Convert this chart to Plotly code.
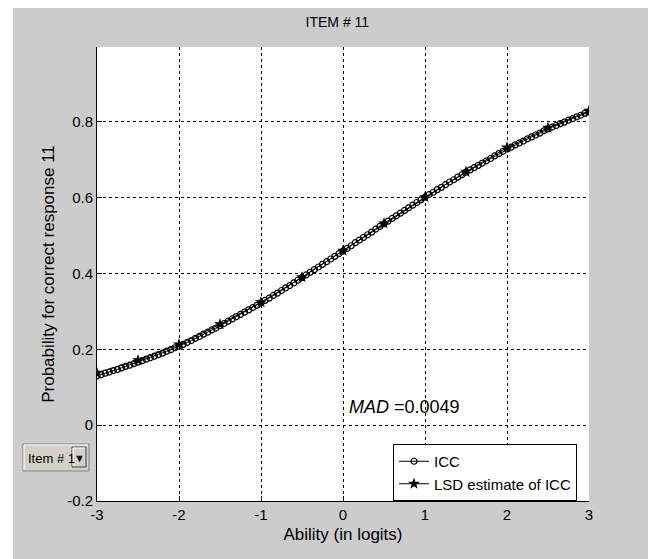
import plotly.graph_objects as go

# Ability grid for the ICC (step 0.05 logits)
ability_icc = [round(-3 + 0.05 * i, 2) for i in range(121)]
icc_values = [
    0.130, 0.133, 0.137, 0.140, 0.144, 0.147, 0.151, 0.155, 0.158, 0.162,
    0.166, 0.170, 0.174, 0.178, 0.182, 0.186, 0.190, 0.195, 0.199, 0.204,
    0.208, 0.213, 0.218, 0.223, 0.229, 0.234, 0.240, 0.245, 0.251, 0.256,
    0.262, 0.268, 0.274, 0.280, 0.286, 0.292, 0.298, 0.304, 0.310, 0.316,
    0.322, 0.329, 0.335, 0.342, 0.348, 0.355, 0.362, 0.368, 0.375, 0.382,
    0.389, 0.396, 0.403, 0.410, 0.417, 0.424, 0.431, 0.438, 0.445, 0.452,
    0.459, 0.466, 0.473, 0.481, 0.488, 0.495, 0.502, 0.509, 0.517, 0.524,
    0.531, 0.538, 0.545, 0.552, 0.559, 0.566, 0.573, 0.580, 0.587, 0.594,
    0.601, 0.608, 0.614, 0.621, 0.627, 0.634, 0.641, 0.647, 0.654, 0.660,
    0.667, 0.673, 0.679, 0.685, 0.691, 0.697, 0.703, 0.710, 0.716, 0.722,
    0.728, 0.733, 0.739, 0.744, 0.749, 0.755, 0.760, 0.765, 0.770, 0.776,
    0.781, 0.786, 0.790, 0.795, 0.799, 0.804, 0.808, 0.813, 0.817, 0.822,
    0.826,
]

ability_lsd = [-3, -2.5, -2, -1.5, -1, -0.5, 0, 0.5, 1, 1.5, 2, 2.5, 3]
lsd_values = [0.138, 0.171, 0.213, 0.266, 0.324, 0.390, 0.460, 0.532,
              0.601, 0.668, 0.732, 0.784, 0.829]

x_ticks = [-3, -2, -1, 0, 1, 2, 3]
y_ticks = [-0.2, 0, 0.2, 0.4, 0.6, 0.8]
y_tick_labels = ["-0.2", "0", "0.2", "0.4", "0.6", "0.8"]

FONT = "Liberation Sans, Arial, sans-serif"
GRAY = "#cccccc"

fig = go.Figure()
fig.add_trace(go.Scatter(
    x=ability_icc, y=icc_values, name="ICC", mode="lines+markers",
    line=dict(color="black", width=1),
    marker=dict(symbol="circle-open", size=6, color="black", line=dict(width=1.2)),
))
fig.add_trace(go.Scatter(
    x=ability_lsd, y=lsd_values, name="LSD estimate of ICC", mode="lines+markers",
    line=dict(color="black", width=1),
    marker=dict(symbol="star", size=9, color="black"),
))

W, H = 656, 559
OFF = 8  # page body offset
L, T = 89, 39
pw, ph = 492, 454
R, B = W - L - pw, H - T - ph


def px(page_x):
    return (page_x - OFF - L) / pw


def py(page_y):
    return (T + ph + OFF - page_y) / ph


shapes = [
    # white strip at left outside the gray figure area
    dict(type="rect", xref="paper", yref="paper", x0=px(0), x1=px(13), y0=py(H + 20), y1=py(-20),
         fillcolor="white", line=dict(width=0), layer="below"),
    # dropdown widget look-alike
    dict(type="rect", xref="paper", yref="paper", x0=px(23), x1=px(89), y0=py(471), y1=py(444),
         fillcolor="#d4d0c8", line=dict(color="#808080", width=1)),
    dict(type="line", xref="paper", yref="paper", x0=px(24), x1=px(88), y0=py(445), y1=py(445),
         line=dict(color="white", width=1)),
    dict(type="line", xref="paper", yref="paper", x0=px(24), x1=px(24), y0=py(445), y1=py(470),
         line=dict(color="white", width=1)),
    dict(type="rect", xref="paper", yref="paper", x0=px(72), x1=px(86), y0=py(467), y1=py(447),
         fillcolor="#d4d0c8", line=dict(color="#404040", width=1)),
    dict(type="line", xref="paper", yref="paper", x0=px(73), x1=px(85), y0=py(448), y1=py(448),
         line=dict(color="white", width=1)),
    dict(type="line", xref="paper", yref="paper", x0=px(73), x1=px(73), y0=py(448), y1=py(466),
         line=dict(color="white", width=1)),
]

fig.update_layout(
    width=W, height=H,
    margin=dict(l=L, r=R, t=T, b=B, autoexpand=False),
    paper_bgcolor=GRAY, plot_bgcolor="white",
    font=dict(family=FONT, size=14, color="black"),
    title=dict(text="ITEM # 11", x=px(344), xanchor="center", y=1 - (22 - OFF) / H, yanchor="middle",
               font=dict(size=14)),
    showlegend=True,
    legend=dict(x=px(393), y=py(444), xanchor="left", yanchor="top",
                bgcolor="white", bordercolor="black", borderwidth=1,
                font=dict(size=15), itemwidth=30, tracegroupgap=0),
    shapes=shapes,
    annotations=[
        dict(x=0.05, y=0.048, xref="x", yref="y", xanchor="left", yanchor="middle",
             text="<i>MAD</i> =0.0049", showarrow=False, font=dict(size=18)),
        dict(x=px(26), y=py(458), xref="paper", yref="paper", xanchor="left", yanchor="middle",
             text="Item # 1", showarrow=False, font=dict(size=13)),
        dict(x=px(79), y=py(457.5), xref="paper", yref="paper", xanchor="center", yanchor="middle",
             text="▼", showarrow=False, font=dict(size=11)),
    ],
)

fig.update_xaxes(
    range=[-3, 3], tickvals=x_ticks, ticktext=[str(v) for v in x_ticks],
    showgrid=True, gridcolor="black", griddash="3px,3px", gridwidth=1,
    showline=True, linecolor="black", linewidth=1, mirror=False,
    ticks="inside", ticklen=5, tickcolor="black", zeroline=False,
    tickfont=dict(size=15),
    title=dict(text="Ability (in logits)", standoff=6),
)
fig.update_yaxes(
    range=[-0.2, 0.997], tickvals=y_ticks, ticktext=y_tick_labels,
    showgrid=True, gridcolor="black", griddash="3px,3px", gridwidth=1,
    showline=True, linecolor="black", linewidth=1, mirror=False,
    ticks="inside", ticklen=5, tickcolor="black", zeroline=False,
    tickfont=dict(size=15),
    title=dict(text="Probability for correct response 11", standoff=8),
)

fig.write_html("out.html")
